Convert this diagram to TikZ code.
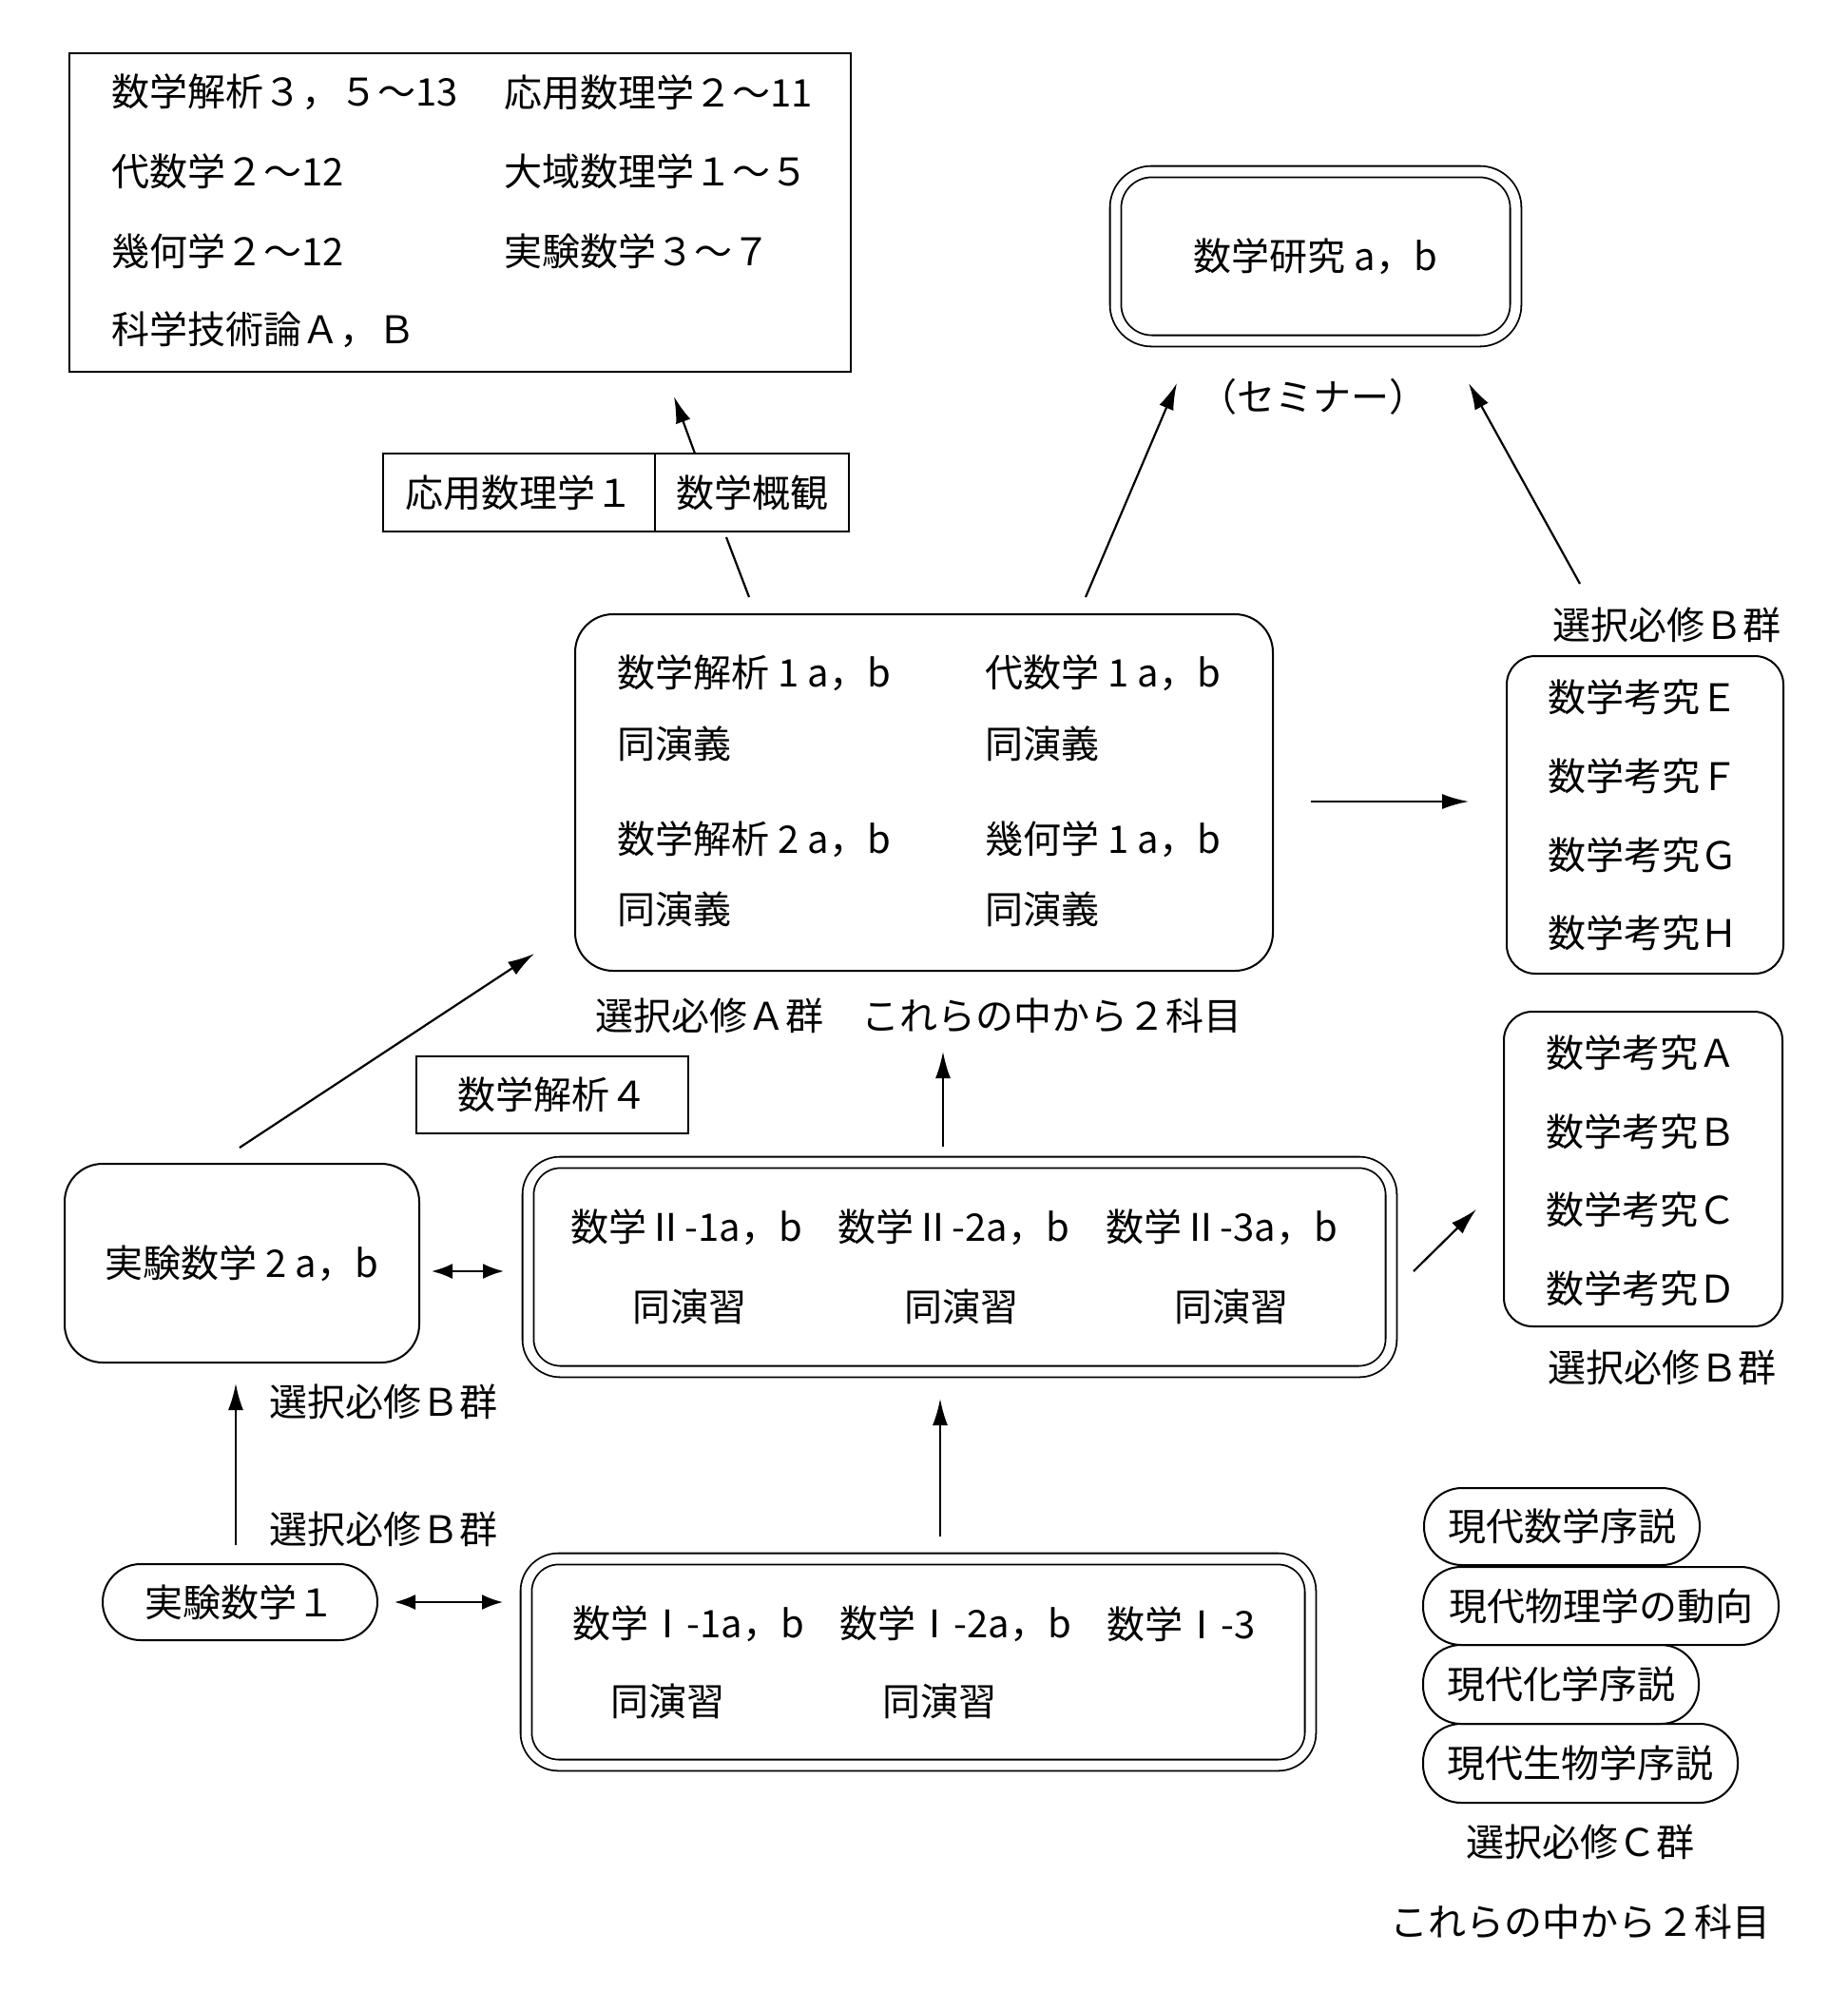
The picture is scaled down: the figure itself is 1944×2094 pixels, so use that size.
\documentclass[tikz,border=0pt]{standalone}
\usepackage{fontspec}
\setmainfont{Noto Sans CJK JP}
\usetikzlibrary{arrows.meta}
\begin{document}
\begin{tikzpicture}[x=0.5pt,y=-0.5pt,
  every node/.style={font=\fontsize{20}{24}\selectfont, inner sep=0pt},
  sqbox/.style={draw, line width=1pt},
  rbox/.style={draw, line width=1pt, rounded corners=18pt},
  dbox/.style={draw, line width=0.9pt, double, double distance=5pt, rounded corners=17pt},
  pill/.style={draw, line width=1pt, rounded corners=20pt},
  arr/.style={line width=1.1pt, -{Latex[length=14pt,width=8pt]}},
  darr/.style={line width=1.1pt, {Latex[length=11pt,width=8pt]}-{Latex[length=11pt,width=8pt]}},
  plain/.style={line width=1.1pt},
  txt/.style={anchor=west}]
\useasboundingbox (0,0) rectangle (1944,2094);
\fill[white] (0,0) rectangle (1944,2094);

% top-left box
\node[sqbox, minimum width=411pt, minimum height=167.5pt] (top) at (484,223.5) {};
\node[txt] (t11) at (117,97) {数学解析３，５～13};
\node[txt] (t12) at (530,97) {応用数理学２～11};
\node[txt] (t21) at (117,180) {代数学２～12};
\node[txt] (t22) at (530,180) {大域数理学１～５};
\node[txt] (t31) at (117,264) {幾何学２～12};
\node[txt] (t32) at (530,264) {実験数学３～７};
\node[txt] (t41) at (117,347) {科学技術論Ａ，Ｂ};

% research
\node[dbox, minimum width=210.5pt, minimum height=89pt, rounded corners=19pt] (res) at (1384,269.5) {数学研究 a，b};
\node (sem) at (1381,417) {（セミナー）};

% small boxes
\node[sqbox, minimum width=143pt, minimum height=41pt] (oyo) at (546,518) {応用数理学１};
\node[sqbox, minimum width=102pt, minimum height=41pt] (gai) at (791,518) {数学概観};

% group A
\node[rbox, minimum width=367pt, minimum height=187.5pt, rounded corners=20pt] (ga) at (972,833.5) {};
\node[txt] (a1) at (649,708) {数学解析 1 a，b};
\node[txt] (a2) at (649,782) {同演義};
\node[txt] (a3) at (649,883) {数学解析 2 a，b};
\node[txt] (a4) at (649,956) {同演義};
\node[txt] (a5) at (1036,708) {代数学 1 a，b};
\node[txt] (a6) at (1036,782) {同演義};
\node[txt] (a7) at (1036,883) {幾何学 1 a，b};
\node[txt] (a8) at (1036,956) {同演義};
\node[anchor=west] (alab) at (626,1068) {選択必修Ａ群　これらの中から２科目};

% group B top
\node (blab1) at (1753,657) {選択必修Ｂ群};
\node[rbox, minimum width=145.5pt, minimum height=167pt, rounded corners=15pt] (gbt) at (1730.5,857) {};
\node[txt] (be) at (1628,733) {数学考究Ｅ};
\node[txt] (bf) at (1628,816) {数学考究Ｆ};
\node[txt] (bg) at (1628,899) {数学考究Ｇ};
\node[txt] (bh) at (1628,981) {数学考究Ｈ};

% group B bottom
\node[rbox, minimum width=146.5pt, minimum height=165.5pt, rounded corners=15pt] (gbb) at (1728.5,1229.5) {};
\node[txt] (ba) at (1626,1107) {数学考究Ａ};
\node[txt] (bb) at (1626,1190) {数学考究Ｂ};
\node[txt] (bc) at (1626,1272) {数学考究Ｃ};
\node[txt] (bd) at (1626,1355) {数学考究Ｄ};
\node (blab2) at (1748,1438) {選択必修Ｂ群};

% kaiseki 4
\node[sqbox, minimum width=143pt, minimum height=40.5pt] (k4) at (581,1151.5) {数学解析４};

% jikken 2
\node[rbox, minimum width=186.5pt, minimum height=104.5pt, rounded corners=20pt] (j2) at (254.5,1328.5) {実験数学 2 a，b};

% math II
\node[dbox, minimum width=454pt, minimum height=110pt] (m2) at (1009.5,1332.5) {};
\node[txt] (m21) at (600,1291) {数学Ⅱ-1a，b};
\node[txt] (m22) at (881,1291) {数学Ⅱ-2a，b};
\node[txt] (m23) at (1163,1291) {数学Ⅱ-3a，b};
\node (m24) at (725,1374) {同演習};
\node (m25) at (1011,1374) {同演習};
\node (m26) at (1295,1374) {同演習};

% labels left
\node[txt] (lb1) at (283,1474) {選択必修Ｂ群};
\node[txt] (lb2) at (283,1608) {選択必修Ｂ群};

% jikken 1
\node[pill, minimum width=144.5pt, minimum height=40pt] (j1) at (252.5,1685) {実験数学１};

% math I
\node[dbox, minimum width=412.5pt, minimum height=108.5pt] (m1) at (966,1748) {};
\node[txt] (m11) at (602,1708) {数学Ⅰ-1a，b};
\node[txt] (m12) at (883,1708) {数学Ⅰ-2a，b};
\node[txt] (m13) at (1164,1708) {数学Ⅰ-3};
\node (m14) at (702,1789) {同演習};
\node (m15) at (988,1789) {同演習};

% group C
\node[pill, minimum width=145pt, minimum height=40.5pt] (c1) at (1643,1605.5) {現代数学序説};
\node[pill, minimum width=187pt, minimum height=41pt] (c2) at (1684,1689) {現代物理学の動向};
\node[pill, minimum width=145pt, minimum height=41.5pt] (c3) at (1642,1771.5) {現代化学序説};
\node[pill, minimum width=165.5pt, minimum height=41.5pt] (c4) at (1662.5,1854.5) {現代生物学序説};
\node (clab) at (1662,1937) {選択必修Ｃ群};
\node (clab2) at (1662,2021) {これらの中から２科目};

% connector end points
\coordinate (p1s) at (1142,628); \coordinate (p1e) at (1238,403);
\coordinate (p2s) at (1662,614); \coordinate (p2e) at (1545,403);
\coordinate (p3s) at (788,628); \coordinate (p3m) at (764,565);
\coordinate (p3n) at (731,477); \coordinate (p3e) at (709,417);
\coordinate (p4s) at (1379,843); \coordinate (p4e) at (1545,843);
\coordinate (p5s) at (992,1206); \coordinate (p5e) at (992,1106);
\coordinate (p6s) at (252,1207); \coordinate (p6e) at (562,1003);
\coordinate (p7s) at (454,1337); \coordinate (p7e) at (530,1337);
\coordinate (p8s) at (1487,1337); \coordinate (p8e) at (1553,1272);
\coordinate (p9s) at (248,1625); \coordinate (p9e) at (248,1455);
\coordinate (p10s) at (989,1616); \coordinate (p10e) at (989,1471);
\coordinate (p11s) at (415,1685); \coordinate (p11e) at (529,1685);

\draw[arr] (p1s) -- (p1e);
\draw[arr] (p2s) -- (p2e);
\draw[plain] (p3s) -- (p3m);
\draw[arr] (p3n) -- (p3e);
\draw[arr] (p4s) -- (p4e);
\draw[arr] (p5s) -- (p5e);
\draw[arr] (p6s) -- (p6e);
\draw[darr] (p7s) -- (p7e);
\draw[arr] (p8s) -- (p8e);
\draw[arr] (p9s) -- (p9e);
\draw[arr] (p10s) -- (p10e);
\draw[darr] (p11s) -- (p11e);
\end{tikzpicture}
\end{document}
